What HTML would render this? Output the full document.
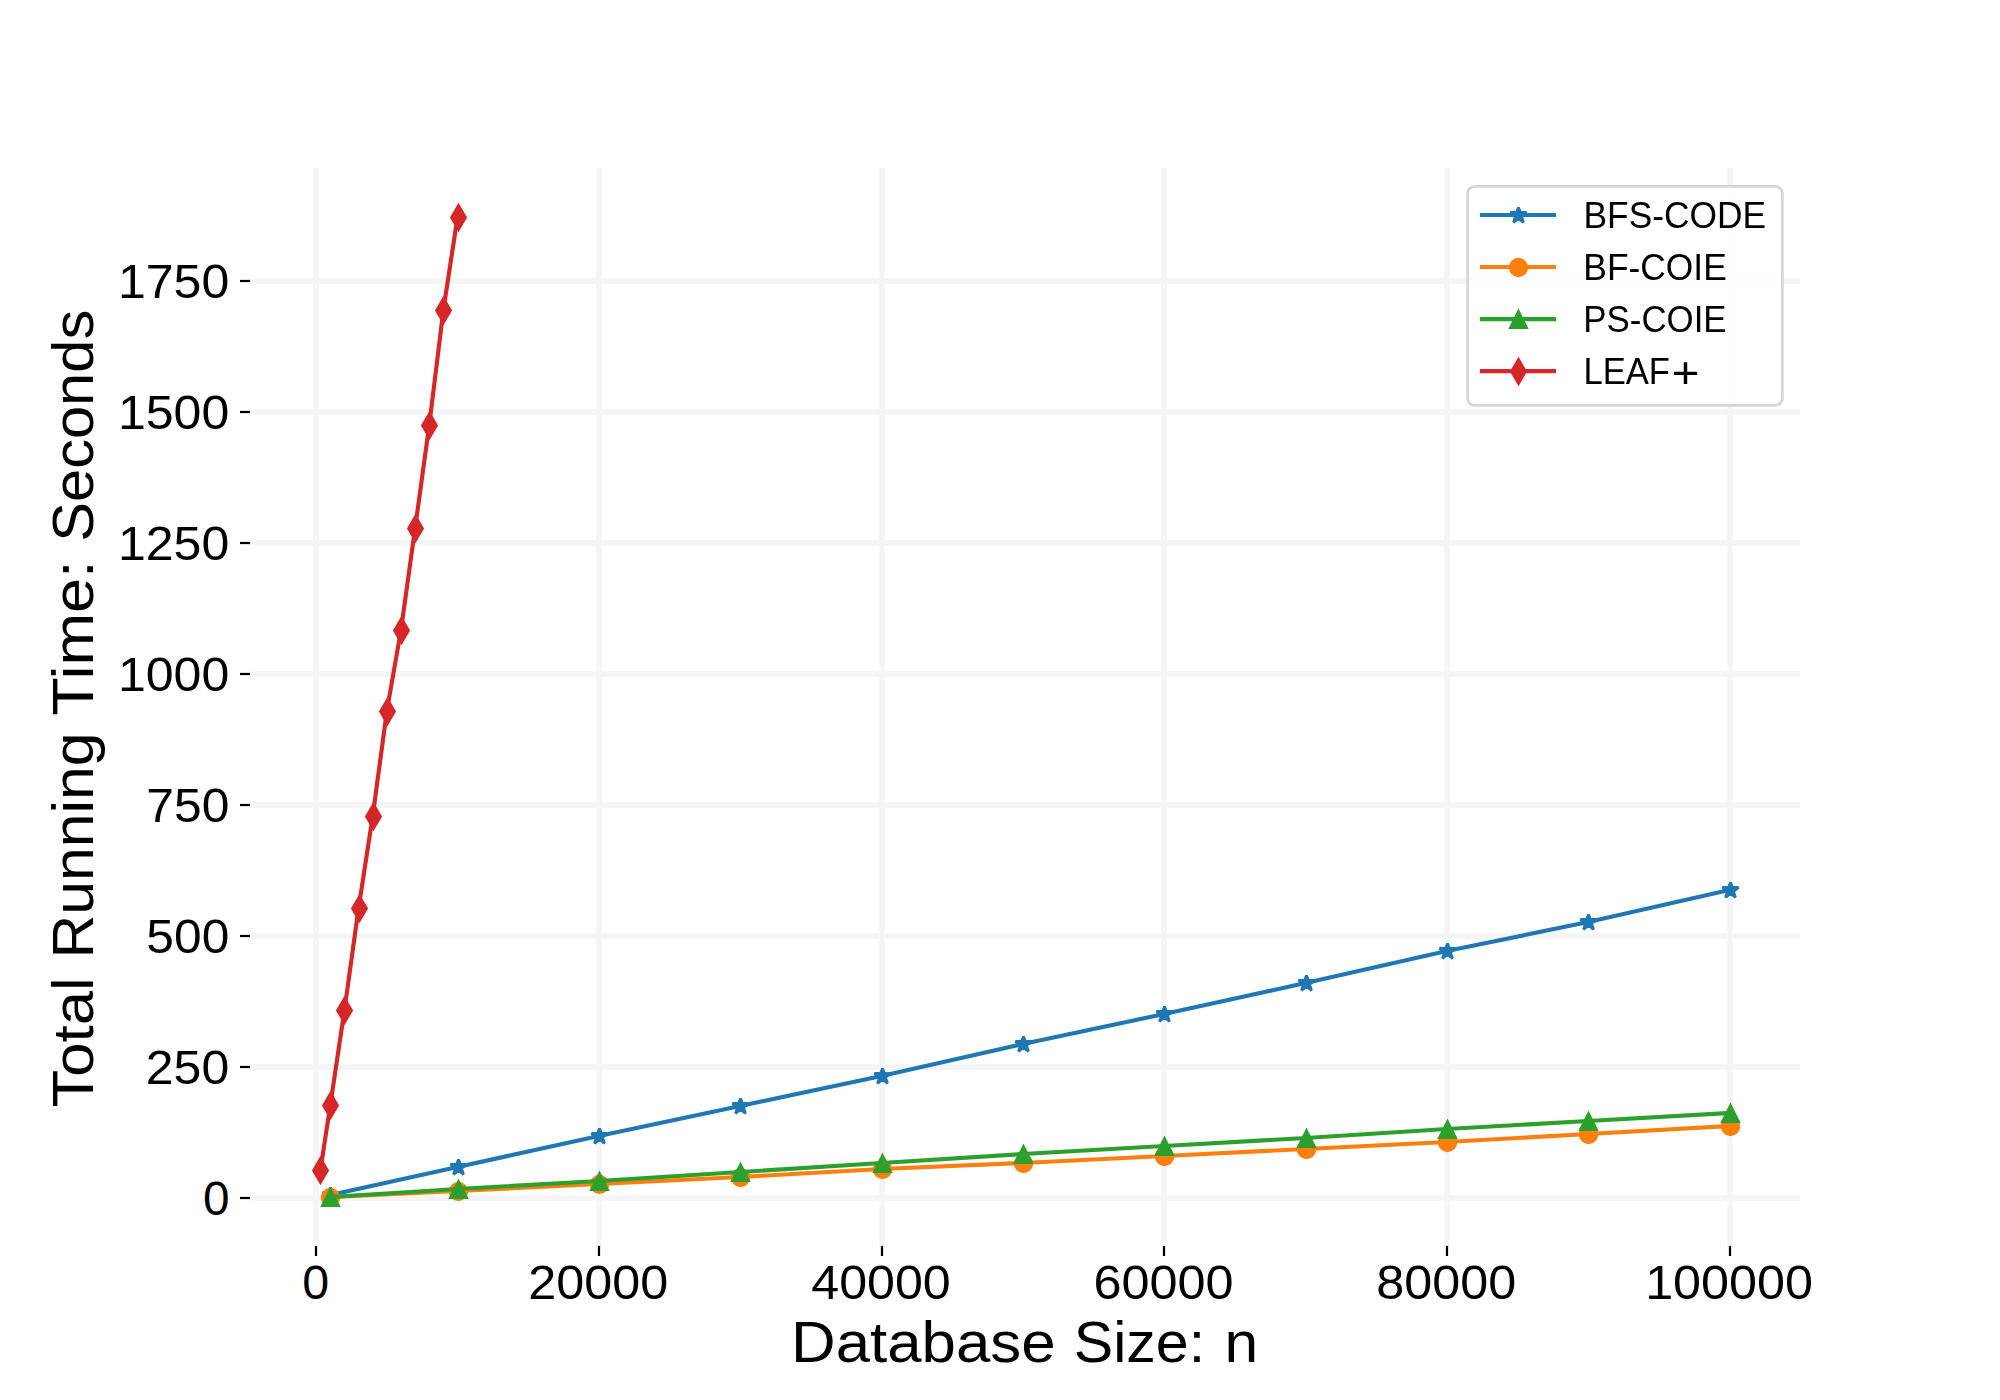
<!DOCTYPE html>
<html lang="en"><head><meta charset="utf-8"><title>Total Running Time vs Database Size</title>
<style>html,body{margin:0;padding:0;background:#fff;width:2000px;height:1400px;overflow:hidden}</style></head>
<body>
<svg width="2000" height="1400" viewBox="0 0 2000 1400" style="display:block;position:absolute;left:0;top:0" font-family="'Liberation Sans', sans-serif" fill="#000">
<rect x="0" y="0" width="2000" height="1400" fill="#fff"/>
<g stroke="#f5f5f5" stroke-width="5.56" fill="none">
<line x1="316" y1="168" x2="316" y2="1246"/>
<line x1="599" y1="168" x2="599" y2="1246"/>
<line x1="882" y1="168" x2="882" y2="1246"/>
<line x1="1164" y1="168" x2="1164" y2="1246"/>
<line x1="1447" y1="168" x2="1447" y2="1246"/>
<line x1="1730" y1="168" x2="1730" y2="1246"/>
<line x1="250" y1="1198" x2="1800" y2="1198"/>
<line x1="250" y1="1067" x2="1800" y2="1067"/>
<line x1="250" y1="936" x2="1800" y2="936"/>
<line x1="250" y1="805" x2="1800" y2="805"/>
<line x1="250" y1="674" x2="1800" y2="674"/>
<line x1="250" y1="543" x2="1800" y2="543"/>
<line x1="250" y1="412" x2="1800" y2="412"/>
<line x1="250" y1="281" x2="1800" y2="281"/>
</g>
<g stroke="#000" stroke-width="2.22" fill="none">
<line x1="316" y1="1246" x2="316" y2="1256"/>
<line x1="599" y1="1246" x2="599" y2="1256"/>
<line x1="882" y1="1246" x2="882" y2="1256"/>
<line x1="1164" y1="1246" x2="1164" y2="1256"/>
<line x1="1447" y1="1246" x2="1447" y2="1256"/>
<line x1="1730" y1="1246" x2="1730" y2="1256"/>
<line x1="240" y1="1198" x2="250" y2="1198"/>
<line x1="240" y1="1067" x2="250" y2="1067"/>
<line x1="240" y1="936" x2="250" y2="936"/>
<line x1="240" y1="805" x2="250" y2="805"/>
<line x1="240" y1="674" x2="250" y2="674"/>
<line x1="240" y1="543" x2="250" y2="543"/>
<line x1="240" y1="412" x2="250" y2="412"/>
<line x1="240" y1="281" x2="250" y2="281"/>
</g>
<polyline points="330.33,1195 457.53,1167 598.86,1136 740.19,1106 881.52,1076 1022.85,1044 1164.18,1014 1305.51,983 1446.84,951 1588.17,922 1729.5,890" fill="none" stroke="#1f77b4" stroke-width="4.17" stroke-linejoin="round" stroke-linecap="square"/>
<polygon points="330.5,1187.5 332.5,1192.5 338.5,1192.5 333.5,1196.5 335.5,1202.5 330.5,1198.5 325.5,1202.5 327.5,1196.5 322.5,1192.5 328.5,1192.5" fill="#1f77b4" stroke="#1f77b4" stroke-width="2.78" stroke-linejoin="bevel"/>
<polygon points="458.5,1159.5 460.5,1164.5 466.5,1164.5 461.5,1168.5 463.5,1174.5 458.5,1170.5 453.5,1174.5 455.5,1168.5 450.5,1164.5 456.5,1164.5" fill="#1f77b4" stroke="#1f77b4" stroke-width="2.78" stroke-linejoin="bevel"/>
<polygon points="599.5,1128.5 601.5,1133.5 607.5,1133.5 602.5,1137.5 604.5,1143.5 599.5,1139.5 594.5,1143.5 596.5,1137.5 591.5,1133.5 597.5,1133.5" fill="#1f77b4" stroke="#1f77b4" stroke-width="2.78" stroke-linejoin="bevel"/>
<polygon points="740.5,1098.5 742.5,1103.5 748.5,1103.5 743.5,1107.5 745.5,1113.5 740.5,1109.5 735.5,1113.5 737.5,1107.5 732.5,1103.5 738.5,1103.5" fill="#1f77b4" stroke="#1f77b4" stroke-width="2.78" stroke-linejoin="bevel"/>
<polygon points="882.5,1068.5 884.5,1073.5 890.5,1073.5 885.5,1077.5 887.5,1083.5 882.5,1079.5 877.5,1083.5 879.5,1077.5 874.5,1073.5 880.5,1073.5" fill="#1f77b4" stroke="#1f77b4" stroke-width="2.78" stroke-linejoin="bevel"/>
<polygon points="1023.5,1036.5 1025.5,1041.5 1031.5,1041.5 1026.5,1045.5 1028.5,1051.5 1023.5,1047.5 1018.5,1051.5 1020.5,1045.5 1015.5,1041.5 1021.5,1041.5" fill="#1f77b4" stroke="#1f77b4" stroke-width="2.78" stroke-linejoin="bevel"/>
<polygon points="1164.5,1006.5 1166.5,1011.5 1172.5,1011.5 1167.5,1015.5 1169.5,1021.5 1164.5,1017.5 1159.5,1021.5 1161.5,1015.5 1156.5,1011.5 1162.5,1011.5" fill="#1f77b4" stroke="#1f77b4" stroke-width="2.78" stroke-linejoin="bevel"/>
<polygon points="1306.5,975.5 1308.5,980.5 1314.5,980.5 1309.5,984.5 1311.5,990.5 1306.5,986.5 1301.5,990.5 1303.5,984.5 1298.5,980.5 1304.5,980.5" fill="#1f77b4" stroke="#1f77b4" stroke-width="2.78" stroke-linejoin="bevel"/>
<polygon points="1447.5,943.5 1449.5,948.5 1455.5,948.5 1450.5,952.5 1452.5,958.5 1447.5,954.5 1442.5,958.5 1444.5,952.5 1439.5,948.5 1445.5,948.5" fill="#1f77b4" stroke="#1f77b4" stroke-width="2.78" stroke-linejoin="bevel"/>
<polygon points="1588.5,914.5 1590.5,919.5 1596.5,919.5 1591.5,923.5 1593.5,929.5 1588.5,925.5 1583.5,929.5 1585.5,923.5 1580.5,919.5 1586.5,919.5" fill="#1f77b4" stroke="#1f77b4" stroke-width="2.78" stroke-linejoin="bevel"/>
<polygon points="1730.5,882.5 1732.5,887.5 1738.5,887.5 1733.5,891.5 1735.5,897.5 1730.5,893.5 1725.5,897.5 1727.5,891.5 1722.5,887.5 1728.5,887.5" fill="#1f77b4" stroke="#1f77b4" stroke-width="2.78" stroke-linejoin="bevel"/>
<polyline points="330.33,1197 457.53,1191 598.86,1184 740.19,1177 881.52,1169 1022.85,1163 1164.18,1156 1305.51,1149 1446.84,1142 1588.17,1134 1729.5,1126" fill="none" stroke="#ff7f0e" stroke-width="4.17" stroke-linejoin="round" stroke-linecap="square"/>
<circle cx="330.5" cy="1197.5" r="8.33" fill="#ff7f0e" stroke="#ff7f0e" stroke-width="2.78"/>
<circle cx="458.5" cy="1191.5" r="8.33" fill="#ff7f0e" stroke="#ff7f0e" stroke-width="2.78"/>
<circle cx="599.5" cy="1184.5" r="8.33" fill="#ff7f0e" stroke="#ff7f0e" stroke-width="2.78"/>
<circle cx="740.5" cy="1177.5" r="8.33" fill="#ff7f0e" stroke="#ff7f0e" stroke-width="2.78"/>
<circle cx="882.5" cy="1169.5" r="8.33" fill="#ff7f0e" stroke="#ff7f0e" stroke-width="2.78"/>
<circle cx="1023.5" cy="1163.5" r="8.33" fill="#ff7f0e" stroke="#ff7f0e" stroke-width="2.78"/>
<circle cx="1164.5" cy="1156.5" r="8.33" fill="#ff7f0e" stroke="#ff7f0e" stroke-width="2.78"/>
<circle cx="1306.5" cy="1149.5" r="8.33" fill="#ff7f0e" stroke="#ff7f0e" stroke-width="2.78"/>
<circle cx="1447.5" cy="1142.5" r="8.33" fill="#ff7f0e" stroke="#ff7f0e" stroke-width="2.78"/>
<circle cx="1588.5" cy="1134.5" r="8.33" fill="#ff7f0e" stroke="#ff7f0e" stroke-width="2.78"/>
<circle cx="1730.5" cy="1126.5" r="8.33" fill="#ff7f0e" stroke="#ff7f0e" stroke-width="2.78"/>
<polyline points="330.33,1197 457.53,1189 598.86,1181 740.19,1172 881.52,1163 1022.85,1154 1164.18,1146 1305.51,1138 1446.84,1129 1588.17,1121 1729.5,1113" fill="none" stroke="#2ca02c" stroke-width="4.17" stroke-linejoin="round" stroke-linecap="square"/>
<polygon points="330.5,1189.5 322.5,1205.5 338.5,1205.5" fill="#2ca02c" stroke="#2ca02c" stroke-width="2.78" stroke-linejoin="miter"/>
<polygon points="458.5,1181.5 450.5,1197.5 466.5,1197.5" fill="#2ca02c" stroke="#2ca02c" stroke-width="2.78" stroke-linejoin="miter"/>
<polygon points="599.5,1173.5 591.5,1189.5 607.5,1189.5" fill="#2ca02c" stroke="#2ca02c" stroke-width="2.78" stroke-linejoin="miter"/>
<polygon points="740.5,1164.5 732.5,1180.5 748.5,1180.5" fill="#2ca02c" stroke="#2ca02c" stroke-width="2.78" stroke-linejoin="miter"/>
<polygon points="882.5,1155.5 874.5,1171.5 890.5,1171.5" fill="#2ca02c" stroke="#2ca02c" stroke-width="2.78" stroke-linejoin="miter"/>
<polygon points="1023.5,1146.5 1015.5,1162.5 1031.5,1162.5" fill="#2ca02c" stroke="#2ca02c" stroke-width="2.78" stroke-linejoin="miter"/>
<polygon points="1164.5,1138.5 1156.5,1154.5 1172.5,1154.5" fill="#2ca02c" stroke="#2ca02c" stroke-width="2.78" stroke-linejoin="miter"/>
<polygon points="1306.5,1130.5 1298.5,1146.5 1314.5,1146.5" fill="#2ca02c" stroke="#2ca02c" stroke-width="2.78" stroke-linejoin="miter"/>
<polygon points="1447.5,1121.5 1439.5,1137.5 1455.5,1137.5" fill="#2ca02c" stroke="#2ca02c" stroke-width="2.78" stroke-linejoin="miter"/>
<polygon points="1588.5,1113.5 1580.5,1129.5 1596.5,1129.5" fill="#2ca02c" stroke="#2ca02c" stroke-width="2.78" stroke-linejoin="miter"/>
<polygon points="1730.5,1105.5 1722.5,1121.5 1738.5,1121.5" fill="#2ca02c" stroke="#2ca02c" stroke-width="2.78" stroke-linejoin="miter"/>
<polyline points="320.44,1170 330.33,1105 344.47,1010 358.6,908 372.73,816 386.87,711 401,630 415.13,528 429.26,425 443.4,310 457.53,217" fill="none" stroke="#d62728" stroke-width="4.17" stroke-linejoin="round" stroke-linecap="square"/>
<polygon points="320.5,1158.5 327.5,1170.5 320.5,1182.5 313.5,1170.5" fill="#d62728" stroke="#d62728" stroke-width="2.78" stroke-linejoin="miter"/>
<polygon points="330.5,1093.5 337.5,1105.5 330.5,1117.5 323.5,1105.5" fill="#d62728" stroke="#d62728" stroke-width="2.78" stroke-linejoin="miter"/>
<polygon points="344.5,998.5 351.5,1010.5 344.5,1022.5 337.5,1010.5" fill="#d62728" stroke="#d62728" stroke-width="2.78" stroke-linejoin="miter"/>
<polygon points="359.5,896.5 366.5,908.5 359.5,920.5 352.5,908.5" fill="#d62728" stroke="#d62728" stroke-width="2.78" stroke-linejoin="miter"/>
<polygon points="373.5,804.5 380.5,816.5 373.5,828.5 366.5,816.5" fill="#d62728" stroke="#d62728" stroke-width="2.78" stroke-linejoin="miter"/>
<polygon points="387.5,699.5 394.5,711.5 387.5,723.5 380.5,711.5" fill="#d62728" stroke="#d62728" stroke-width="2.78" stroke-linejoin="miter"/>
<polygon points="401.5,618.5 408.5,630.5 401.5,642.5 394.5,630.5" fill="#d62728" stroke="#d62728" stroke-width="2.78" stroke-linejoin="miter"/>
<polygon points="415.5,516.5 422.5,528.5 415.5,540.5 408.5,528.5" fill="#d62728" stroke="#d62728" stroke-width="2.78" stroke-linejoin="miter"/>
<polygon points="429.5,413.5 436.5,425.5 429.5,437.5 422.5,425.5" fill="#d62728" stroke="#d62728" stroke-width="2.78" stroke-linejoin="miter"/>
<polygon points="443.5,298.5 450.5,310.5 443.5,322.5 436.5,310.5" fill="#d62728" stroke="#d62728" stroke-width="2.78" stroke-linejoin="miter"/>
<polygon points="458.5,205.5 465.5,217.5 458.5,229.5 451.5,217.5" fill="#d62728" stroke="#d62728" stroke-width="2.78" stroke-linejoin="miter"/>
<text x="302.18" y="1299" font-size="47.6" text-anchor="start" textLength="26.93" lengthAdjust="spacingAndGlyphs">0</text>
<text x="528.36" y="1299" font-size="47.6" text-anchor="start" textLength="139.93" lengthAdjust="spacingAndGlyphs">20000</text>
<text x="811.32" y="1299" font-size="47.6" text-anchor="start" textLength="139.41" lengthAdjust="spacingAndGlyphs">40000</text>
<text x="1093.46" y="1299" font-size="47.6" text-anchor="start" textLength="140.08" lengthAdjust="spacingAndGlyphs">60000</text>
<text x="1376.29" y="1299" font-size="47.6" text-anchor="start" textLength="139.93" lengthAdjust="spacingAndGlyphs">80000</text>
<text x="1645.17" y="1299" font-size="47.6" text-anchor="start" textLength="167.79" lengthAdjust="spacingAndGlyphs">100000</text>
<text x="202.95" y="1215" font-size="47.6" text-anchor="start" textLength="26.59" lengthAdjust="spacingAndGlyphs">0</text>
<text x="145.83" y="1084" font-size="47.6" text-anchor="start" textLength="83.36" lengthAdjust="spacingAndGlyphs">250</text>
<text x="146.35" y="953" font-size="47.6" text-anchor="start" textLength="82.94" lengthAdjust="spacingAndGlyphs">500</text>
<text x="146.35" y="822" font-size="47.6" text-anchor="start" textLength="82.96" lengthAdjust="spacingAndGlyphs">750</text>
<text x="117.92" y="691" font-size="47.6" text-anchor="start" textLength="111.37" lengthAdjust="spacingAndGlyphs">1000</text>
<text x="117.92" y="560" font-size="47.6" text-anchor="start" textLength="111.37" lengthAdjust="spacingAndGlyphs">1250</text>
<text x="117.92" y="429" font-size="47.6" text-anchor="start" textLength="111.37" lengthAdjust="spacingAndGlyphs">1500</text>
<text x="117.92" y="298" font-size="47.6" text-anchor="start" textLength="111.37" lengthAdjust="spacingAndGlyphs">1750</text>
<text y="1362" font-size="58"><tspan x="791.07" textLength="264.49" lengthAdjust="spacingAndGlyphs">Database</tspan> <tspan x="1073.89" textLength="131.22" lengthAdjust="spacingAndGlyphs">Size:</tspan> <tspan x="1224.57" textLength="33.66" lengthAdjust="spacingAndGlyphs">n</tspan></text>
<g transform="translate(93.1 0) rotate(-90)"><text y="0" font-size="58"><tspan x="-1107.54" textLength="130.28" lengthAdjust="spacingAndGlyphs">Total</tspan> <tspan x="-958.49" textLength="225.88" lengthAdjust="spacingAndGlyphs">Running</tspan> <tspan x="-715.75" textLength="155.41" lengthAdjust="spacingAndGlyphs">Time:</tspan> <tspan x="-541.69" textLength="231.87" lengthAdjust="spacingAndGlyphs">Seconds</tspan></text></g>
<rect x="1467.6" y="186.4" width="314.8" height="218.9" rx="7.2" ry="7.2" fill="#fff" fill-opacity="0.8" stroke="#cccccc" stroke-opacity="0.8" stroke-width="2.78"/>
<polyline points="1482,215 1553.9,215" fill="none" stroke="#1f77b4" stroke-width="4.17" stroke-linejoin="round" stroke-linecap="square"/>
<polygon points="1518.5,207.5 1520.5,212.5 1526.5,212.5 1521.5,216.5 1523.5,222.5 1518.5,218.5 1513.5,222.5 1515.5,216.5 1510.5,212.5 1516.5,212.5" fill="#1f77b4" stroke="#1f77b4" stroke-width="2.78" stroke-linejoin="bevel"/>
<polyline points="1482,267.03 1553.9,267.03" fill="none" stroke="#ff7f0e" stroke-width="4.17" stroke-linejoin="round" stroke-linecap="square"/>
<circle cx="1518.5" cy="267.5" r="8.33" fill="#ff7f0e" stroke="#ff7f0e" stroke-width="2.78"/>
<polyline points="1482,319.06 1553.9,319.06" fill="none" stroke="#2ca02c" stroke-width="4.17" stroke-linejoin="round" stroke-linecap="square"/>
<polygon points="1518.5,311.5 1510.5,327.5 1526.5,327.5" fill="#2ca02c" stroke="#2ca02c" stroke-width="2.78" stroke-linejoin="miter"/>
<polyline points="1482,371.09 1553.9,371.09" fill="none" stroke="#d62728" stroke-width="4.17" stroke-linejoin="round" stroke-linecap="square"/>
<polygon points="1518.5,359.5 1525.5,371.5 1518.5,383.5 1511.5,371.5" fill="#d62728" stroke="#d62728" stroke-width="2.78" stroke-linejoin="miter"/>
<g style="will-change:transform">
<text x="1583.47" y="228" font-size="37.8" text-anchor="start" textLength="182.6" lengthAdjust="spacingAndGlyphs">BFS-CODE</text>
<text x="1583.36" y="280.03" font-size="37.8" text-anchor="start" textLength="143.36" lengthAdjust="spacingAndGlyphs">BF-COIE</text>
<text x="1583.32" y="332.06" font-size="37.8" text-anchor="start" textLength="143.26" lengthAdjust="spacingAndGlyphs">PS-COIE</text>
<text y="384.09" font-size="37.8"><tspan x="1583.41" textLength="86.56" lengthAdjust="spacingAndGlyphs">LEAF</tspan><tspan x="1671.44" y="388.05" font-size="45" textLength="27.99" lengthAdjust="spacingAndGlyphs">+</tspan></text>
</g>
</svg>
</body></html>
